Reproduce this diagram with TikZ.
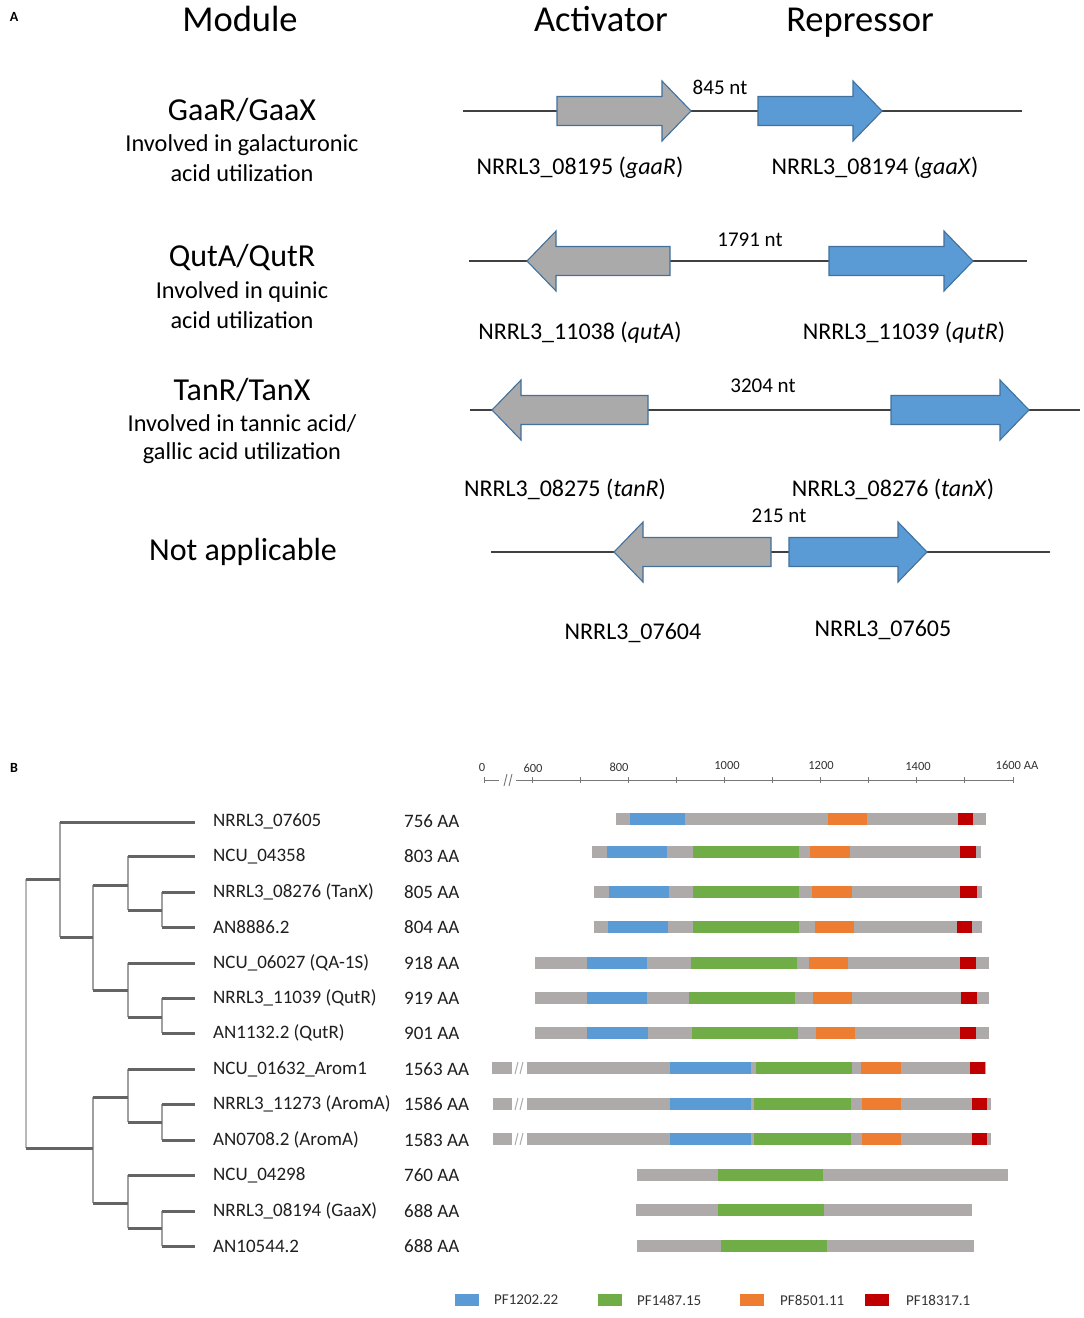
\documentclass[tikz,border=0pt]{standalone}
\usepackage{fontspec}
\setmainfont{Carlito}
\definecolor{gbar}{RGB}{174,170,170}
\definecolor{pfblue}{RGB}{91,155,213}
\definecolor{pfgreen}{RGB}{112,173,71}
\definecolor{pforange}{RGB}{237,125,49}
\definecolor{pfred}{RGB}{192,0,0}
\definecolor{arrgray}{RGB}{170,170,170}
\definecolor{arredge}{RGB}{65,113,156}
\definecolor{treeh}{RGB}{100,100,100}
\definecolor{treev}{RGB}{160,160,160}
\definecolor{rulegray}{RGB}{120,120,120}
\newcommand\fsz[1]{\fontsize{#1}{#1}\selectfont}
\newcommand\genearrow[5]{%
  \draw[#1] (#2,{#5-14.5}) -- (#3,{#5-14.5}) -- (#3,{#5-30}) -- (#4,#5) -- (#3,{#5+30}) -- (#3,{#5+14.5}) -- (#2,{#5+14.5}) -- cycle;}
\newcommand\seg[4]{\fill[#4] (#1,{#3-6}) rectangle (#2,{#3+6});}
\newcommand\brk[2]{\draw[gbar,line width=1pt] (#1,{#2+6}) -- ({#1+3},{#2-6}) ({#1+5},{#2+6}) -- ({#1+8},{#2-6});}
\begin{document}
\begin{tikzpicture}[x=1pt,y=-1pt,
  hdr/.style={font=\fsz{36.5},inner sep=0,anchor=base},
  modname/.style={font=\fsz{32},inner sep=0},
  desc/.style={font=\fsz{24.3},inner sep=0},
  glab/.style={font=\fsz{24},inner sep=0},
  ntlab/.style={font=\fsz{21},inner sep=0},
  panel/.style={font=\fsz{14}\bfseries,inner sep=0},
  dna/.style={draw=black!75,line width=1.1pt},
  actgene/.style={fill=arrgray,draw=arredge,line width=1.1pt},
  repgene/.style={fill=pfblue,draw=arredge,line width=1.1pt},
  leafname/.style={font=\fsz{19},anchor=west,inner sep=0,text=black!88},
  treeh/.style={draw=treeh,line width=3pt},
  treev/.style={draw=treev,line width=1.8pt},
  rulelab/.style={font=\fsz{12.5},inner sep=0,text=black!80},
  leglab/.style={font=\fsz{15},anchor=west,inner sep=0,text=black!80}]
\fill[white] (0,0) rectangle (1084,1318);
\useasboundingbox (0,0) rectangle (1084,1318);

% ---------------- Panel A ----------------
\node[panel] (pA) at (14,17) {A};
\node[hdr] (hmod) at (240,31) {Module};
\node[hdr] (hact) at (601,31) {Activator};
\node[hdr] (hrep) at (860,31) {Repressor};

\node[modname] (m1) at (242,110) {GaaR/GaaX};
\node[desc] (m1a) at (242,145) {Involved in galacturonic};
\node[desc] (m1b) at (242,173) {acid utilization};
\node[modname] (m2) at (242,258) {QutA/QutR};
\node[desc] (m2a) at (242,292) {Involved in quinic};
\node[desc] (m2b) at (242,320) {acid utilization};
\node[modname] (m3) at (242,390) {TanR/TanX};
\node[desc] (m3a) at (242,424) {Involved in tannic acid/};
\node[desc] (m3b) at (242,453) {gallic acid utilization};
\node[modname] (m4) at (243,552) {Not applicable};

% row 1
\draw[dna] (463,111) -- (1022,111);
\genearrow{actgene}{557}{662}{691}{111}
\genearrow{repgene}{758}{853}{882}{111}
\node[ntlab] (d1) at (720,87) {845 nt};
\node[glab] (g1a) at (580,168) {NRRL3\_08195 (\textit{gaaR})};
\node[glab] (g1r) at (875,168) {NRRL3\_08194 (\textit{gaaX})};
% row 2
\draw[dna] (469,261) -- (1027,261);
\genearrow{actgene}{670}{556}{527}{261}
\genearrow{repgene}{829}{944}{973}{261}
\node[ntlab] (d2) at (750,240) {1791 nt};
\node[glab] (g2a) at (580,333) {NRRL3\_11038 (\textit{qutA})};
\node[glab] (g2r) at (904,333) {NRRL3\_11039 (\textit{qutR})};
% row 3
\draw[dna] (470,410) -- (1080,410);
\genearrow{actgene}{648}{521}{492}{410}
\genearrow{repgene}{891}{1000}{1029}{410}
\node[ntlab] (d3) at (763,386) {3204 nt};
\node[glab] (g3a) at (565,489) {NRRL3\_08275 (\textit{tanR})};
\node[glab] (g3r) at (893,489) {NRRL3\_08276 (\textit{tanX})};
% row 4
\draw[dna] (491,552) -- (1050,552);
\genearrow{actgene}{771}{643}{614}{552}
\genearrow{repgene}{789}{898}{927}{552}
\node[ntlab] (d4) at (779,516) {215 nt};
\node[glab] (g4a) at (633,633) {NRRL3\_07604};
\node[glab] (g4r) at (883,630) {NRRL3\_07605};

% ---------------- Panel B ----------------
\node[panel] (pB) at (14,768) {B};

% ruler
\draw[rulegray,line width=1pt] (484,780) -- (499,780);
\draw[rulegray,line width=0.9pt] (504,786) -- (507,774) (509,786) -- (512,774);
\draw[rulegray,line width=1pt] (516,780) -- (1013,780);
\draw[rulegray,line width=1pt] (484,777) -- (484,783);
\foreach \k in {0,...,10}{\draw[rulegray,line width=1pt] ({532+48.1*\k},777) -- ({532+48.1*\k},783);}
\node[rulelab] (r0) at (482,767) {0};
\node[rulelab] (r600) at (533,768) {600};
\node[rulelab] (r800) at (619,767) {800};
\node[rulelab] (r1000) at (727,765) {1000};
\node[rulelab] (r1200) at (821,765) {1200};
\node[rulelab] (r1400) at (918,766) {1400};
\node[rulelab] (r1600) at (1017,765) {1600 AA};

% tree: verticals
\draw[treev,draw=treev!75] (26,879) -- (26,1148);
\draw[treev] (60,822) -- (60,937);
\draw[treev] (93,885) -- (93,990);
\draw[treev] (128,856) -- (128,910);
\draw[treev] (162,892) -- (162,927);
\draw[treev] (128,963) -- (128,1017);
\draw[treev] (162,998) -- (162,1033);
\draw[treev] (93,1097) -- (93,1203);
\draw[treev] (128,1069) -- (128,1122);
\draw[treev] (162,1104) -- (162,1140);
\draw[treev] (128,1175) -- (128,1228);
\draw[treev] (162,1211) -- (162,1246);
% tree: horizontals
\draw[treeh] (26,879) -- (60,879);
\draw[treeh] (60,822) -- (195,822);
\draw[treeh] (60,937) -- (93,937);
\draw[treeh] (93,885) -- (128,885);
\draw[treeh] (93,990) -- (128,990);
\draw[treeh] (128,856) -- (195,856);
\draw[treeh] (128,910) -- (162,910);
\draw[treeh] (162,892) -- (195,892);
\draw[treeh] (162,927) -- (195,927);
\draw[treeh] (128,963) -- (195,963);
\draw[treeh] (128,1017) -- (162,1017);
\draw[treeh] (162,998) -- (195,998);
\draw[treeh] (162,1033) -- (195,1033);
\draw[treeh] (26,1148) -- (93,1148);
\draw[treeh] (93,1097) -- (128,1097);
\draw[treeh] (93,1203) -- (128,1203);
\draw[treeh] (128,1069) -- (195,1069);
\draw[treeh] (128,1122) -- (162,1122);
\draw[treeh] (162,1104) -- (195,1104);
\draw[treeh] (162,1140) -- (195,1140);
\draw[treeh] (128,1175) -- (195,1175);
\draw[treeh] (128,1228) -- (162,1228);
\draw[treeh] (162,1211) -- (195,1211);
\draw[treeh] (162,1246) -- (195,1246);

% leaf names and lengths
\foreach \y/\nm/\aa [count=\i] in {
  821/NRRL3\_07605/756 AA,
  856/NCU\_04358/803 AA,
  892/NRRL3\_08276 (TanX)/805 AA,
  927/AN8886.2/804 AA,
  963/NCU\_06027 (QA-1S)/918 AA,
  998/NRRL3\_11039 (QutR)/919 AA,
  1033/AN1132.2 (QutR)/901 AA,
  1069/NCU\_01632\_Arom1/1563 AA,
  1104/NRRL3\_11273 (AromA)/1586 AA,
  1140/AN0708.2 (AromA)/1583 AA,
  1175/NCU\_04298/760 AA,
  1211/NRRL3\_08194 (GaaX)/688 AA,
  1246/AN10544.2/688 AA}{
  \node[leafname] (leaf\i) at (213,\y) {\nm};
  \node[leafname] (len\i) at (404,\y) {\aa};
}

% domain bars
% r1
\seg{616}{986}{819}{gbar}\seg{630}{685}{819}{pfblue}\seg{828}{867}{819}{pforange}\seg{958}{973}{819}{pfred}
% r2
\seg{592}{981}{852}{gbar}\seg{607}{667}{852}{pfblue}\seg{693}{799}{852}{pfgreen}\seg{810}{850}{852}{pforange}\seg{960}{976}{852}{pfred}
% r3
\seg{594}{982}{892}{gbar}\seg{609}{669}{892}{pfblue}\seg{693}{799}{892}{pfgreen}\seg{812}{852}{892}{pforange}\seg{960}{977}{892}{pfred}
% r4
\seg{594}{982}{927}{gbar}\seg{608}{668}{927}{pfblue}\seg{693}{799}{927}{pfgreen}\seg{815}{854}{927}{pforange}\seg{957}{972}{927}{pfred}
% r5
\seg{535}{989}{963}{gbar}\seg{587}{647}{963}{pfblue}\seg{691}{797}{963}{pfgreen}\seg{809}{848}{963}{pforange}\seg{960}{976}{963}{pfred}
% r6
\seg{535}{989}{998}{gbar}\seg{587}{647}{998}{pfblue}\seg{689}{795}{998}{pfgreen}\seg{813}{852}{998}{pforange}\seg{961}{977}{998}{pfred}
% r7
\seg{535}{989}{1033}{gbar}\seg{587}{648}{1033}{pfblue}\seg{692}{798}{1033}{pfgreen}\seg{816}{855}{1033}{pforange}\seg{960}{976}{1033}{pfred}
% r8
\seg{492}{512}{1068}{gbar}\brk{515}{1068}\seg{527}{986}{1068}{gbar}\seg{670}{751}{1068}{pfblue}\seg{756}{852}{1068}{pfgreen}\seg{861}{901}{1068}{pforange}\seg{970}{985}{1068}{pfred}
% r9
\seg{493}{512}{1104}{gbar}\brk{515}{1104}\seg{527}{991}{1104}{gbar}\seg{670}{751}{1104}{pfblue}\seg{754}{851}{1104}{pfgreen}\seg{862}{901}{1104}{pforange}\seg{972}{987}{1104}{pfred}
% r10
\seg{493}{512}{1139}{gbar}\brk{515}{1139}\seg{527}{991}{1139}{gbar}\seg{670}{751}{1139}{pfblue}\seg{754}{851}{1139}{pfgreen}\seg{862}{901}{1139}{pforange}\seg{972}{987}{1139}{pfred}
% r11
\seg{637}{1008}{1175}{gbar}\seg{718}{823}{1175}{pfgreen}
% r12
\seg{636}{972}{1210}{gbar}\seg{718}{824}{1210}{pfgreen}
% r13
\seg{637}{974}{1246}{gbar}\seg{721}{827}{1246}{pfgreen}

% legend
\seg{455}{479}{1300}{pfblue}\node[leglab] (l1) at (494,1300) {PF1202.22};
\seg{598}{622}{1300}{pfgreen}\node[leglab] (l2) at (637,1300) {PF1487.15};
\seg{740}{764}{1300}{pforange}\node[leglab] (l3) at (780,1300) {PF8501.11};
\seg{865}{889}{1300}{pfred}\node[leglab] (l4) at (906,1300) {PF18317.1};
\end{tikzpicture}
\end{document}
